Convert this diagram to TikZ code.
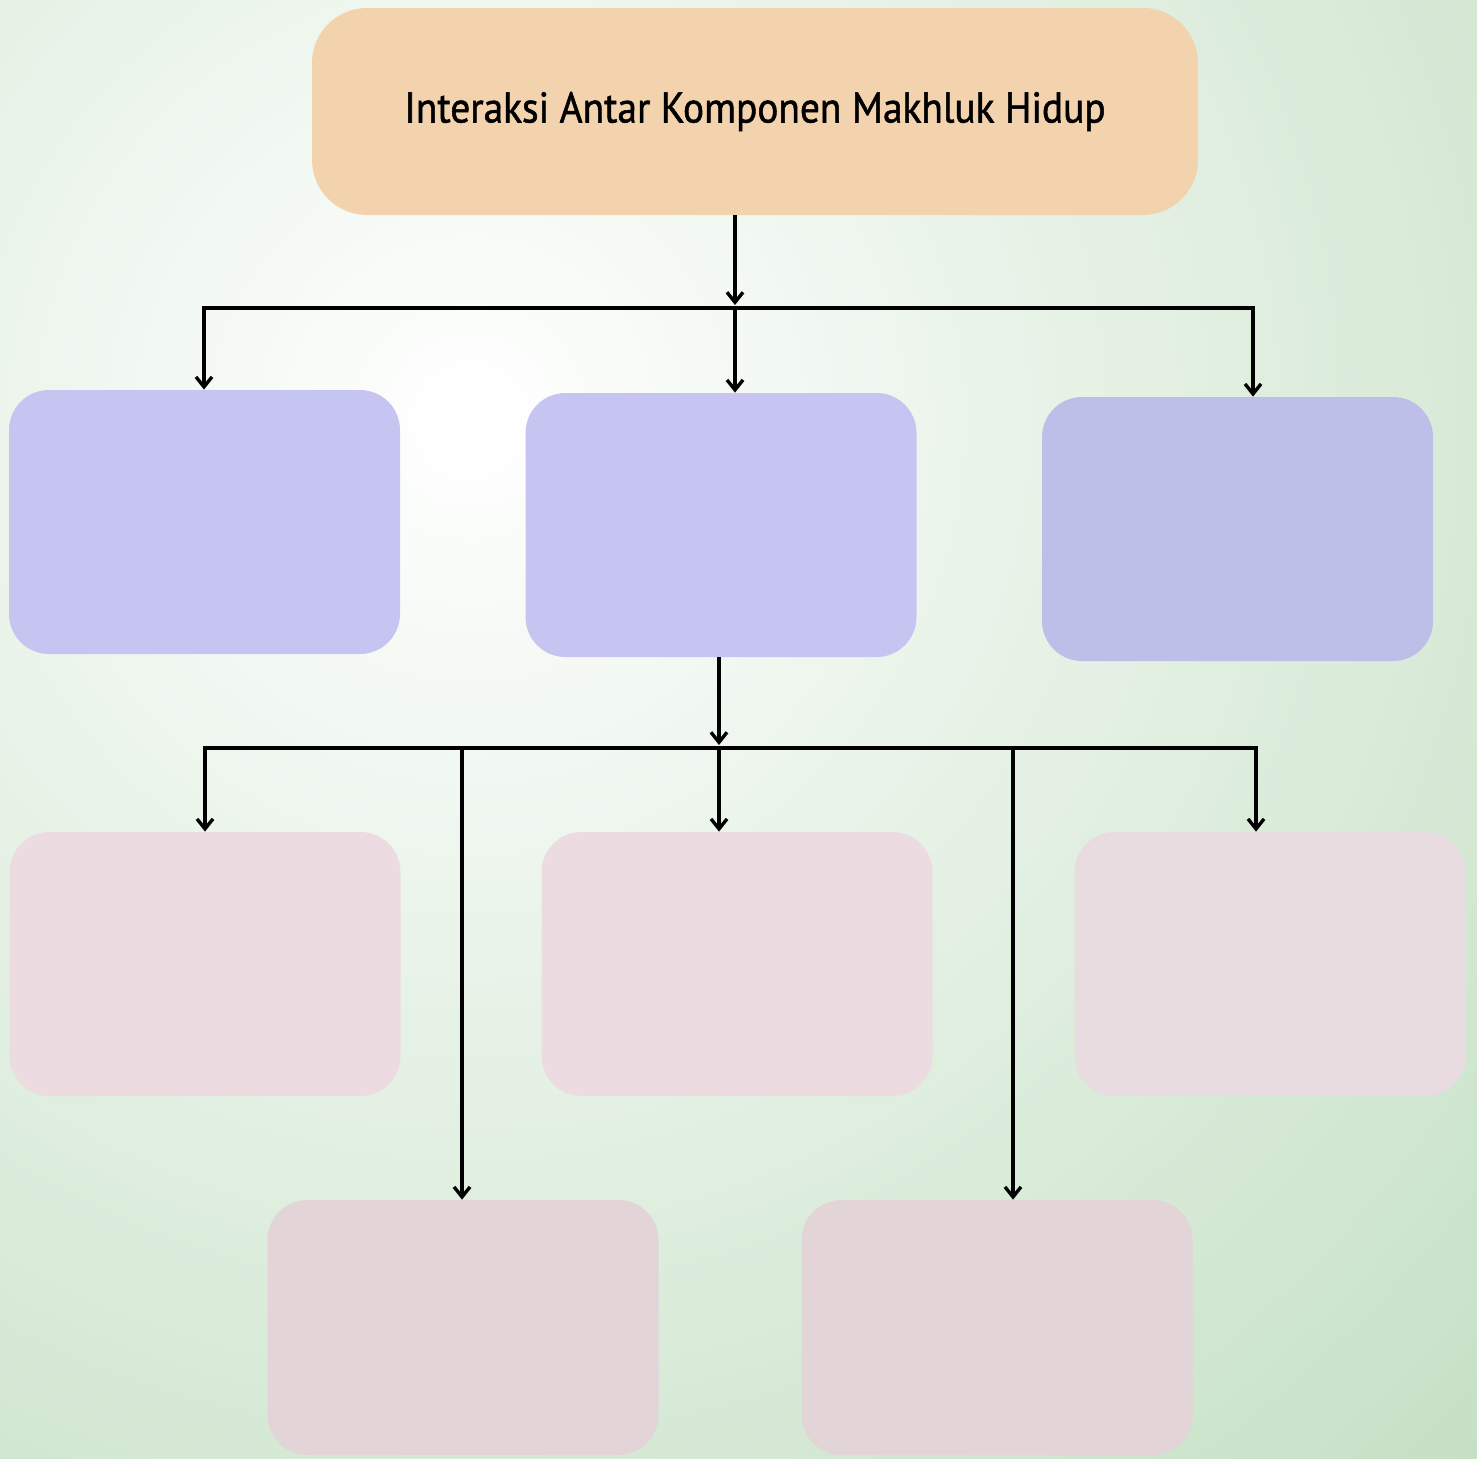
\documentclass[tikz,border=0pt]{standalone}
\usepackage{fontspec}
\newfontfamily\judulfont[FakeStretch=0.915, FakeBold=1.2]{PT Sans}
\usetikzlibrary{positioning, arrows.meta}
\definecolor{latarhijau}{HTML}{C3DFC3}
\definecolor{jingga}{HTML}{F3D3AE}
\definecolor{ungu}{HTML}{C6C4F1}
\definecolor{ungutua}{HTML}{BDBFE8}
\definecolor{merahmuda}{HTML}{ECDCE2}
\definecolor{merahmudatua}{HTML}{E3D4D8}
\tikzset{
    judul/.style={rectangle, rounded corners=27.5pt, fill=jingga, minimum width=443pt,
        minimum height=103.5pt, font=\judulfont\fontsize{21.5}{25}\selectfont},
    kotak/.style={rectangle, rounded corners=20pt, minimum width=195.5pt, minimum height=132pt},
    komponen/.style={kotak, fill=ungu},
    interaksi/.style={kotak, fill=merahmuda},
    panah/.style={-{Straight Barb[length=5pt, width=8pt]}, line width=1.7pt},
    garis/.style={line width=1.7pt, line cap=rect},
    cabang/.style={coordinate}}

\begin{document}
\begin{tikzpicture}[x=0.5pt, y=-0.5pt]
    % Latar
    \useasboundingbox (0,0) rectangle (1477,1458);
    \clip (0,0) rectangle (1477,1458);
    \shade[inner color=white, outer color=latarhijau] (470,420) circle (1500);

    % Judul
    \node (judul) [judul] at (755,111.5) {Interaksi Antar Komponen Makhluk Hidup};
    % Baris kedua
    \node (k1) [komponen] at (204.5,522) {};
    \node (k2) [komponen] at (721,525) {};
    \node (k3) [komponen, fill=ungutua] at (1237.5,529) {};
    % Baris ketiga
    \node (i1) [interaksi] at (205,964) {};
    \node (i2) [interaksi] at (737,964) {};
    \node (i3) [interaksi, fill=merahmuda!93!latarhijau] at (1270,964) {};
    % Baris keempat
    \node (i4) [interaksi, fill=merahmudatua, minimum height=127.5pt] at (463,1327.5) {};
    \node (i5) [interaksi, fill=merahmudatua, minimum height=127.5pt] at (997,1327.5) {};

    \node (c1) [cabang] at (735,308) {};
    \node (ca) [cabang] at (204,308) {};
    \node (cc) [cabang] at (1253,308) {};
    \node (c2) [cabang] at (719,748) {};
    \node (cd) [cabang] at (205,748) {};
    \node (ce) [cabang] at (462,748) {};
    \node (cf) [cabang] at (1013,748) {};
    \node (cg) [cabang] at (1256,748) {};

    \draw[panah, shorten >=1.5pt] (judul.south -| c1) -- (c1);
    \draw[garis] (ca) -- (cc);
    \draw[panah] (ca) -- (ca |- k1.north);
    \draw[panah] (c1) -- (c1 |- k2.north);
    \draw[panah] (cc) -- (cc |- k3.north);

    \draw[panah, shorten >=1.5pt] (k2.south -| c2) -- (c2);
    \draw[garis] (cd) -- (cg);
    \draw[panah] (cd) -- (cd |- i1.north);
    \draw[panah] (c2) -- (c2 |- i2.north);
    \draw[panah] (cg) -- (cg |- i3.north);
    \draw[panah] (ce) -- (ce |- i4.north);
    \draw[panah] (cf) -- (cf |- i5.north);
\end{tikzpicture}
\end{document}
